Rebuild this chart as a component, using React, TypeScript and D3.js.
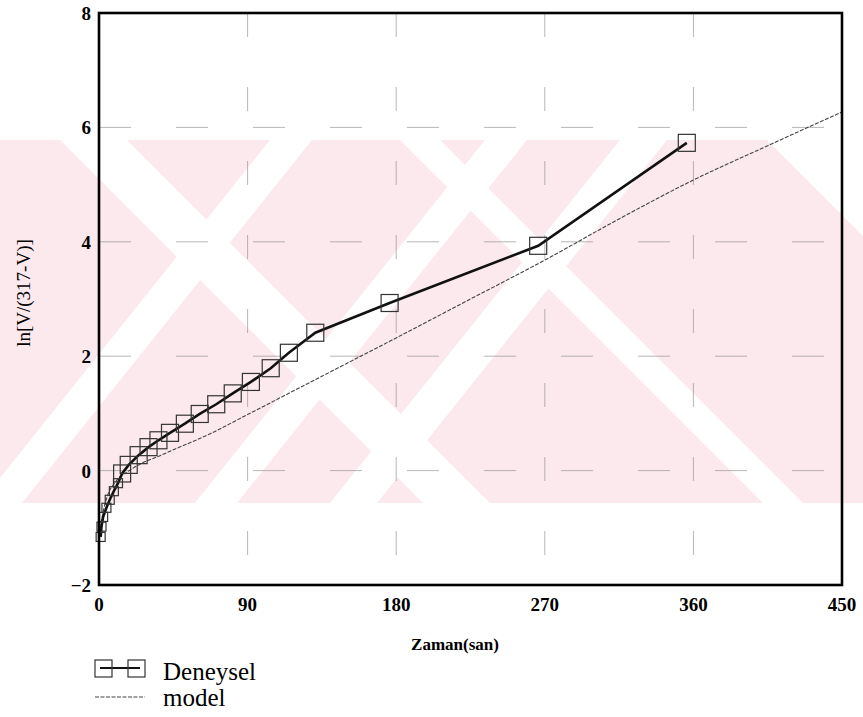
import React from "react";
import * as d3 from "d3";

const expT = [1, 1.5, 2.5, 4.5, 6.5, 9, 11.5, 14, 18, 24, 30, 36, 43, 52, 61, 71, 81, 92, 104, 115, 131, 176, 266, 356];
const expY = [-1.16, -0.98, -0.81, -0.65, -0.51, -0.36, -0.22, -0.05, 0.1, 0.27, 0.41, 0.53, 0.66, 0.82, 0.99, 1.16, 1.35, 1.55, 1.79, 2.06, 2.41, 2.93, 3.93, 5.73];

const modelT = [0, 2, 5, 10, 20, 40, 67, 90, 135, 180, 225, 270, 315, 360, 405, 450];
const modelY = [-1.2, -0.8, -0.45, -0.2, 0.03, 0.3, 0.64, 0.98, 1.65, 2.32, 3.0, 3.68, 4.4, 5.08, 5.68, 6.27];

const xTicks = [0, 90, 180, 270, 360, 450];
const yTicks = [-2, 0, 2, 4, 6, 8];
const yTickLabels = ["\u22122", "0", "2", "4", "6", "8"];
const gridX = [90, 180, 270, 360];
const gridY = [0, 2, 4, 6];

const W = 863, H = 717;
const L = 99, R = 842, T = 13, B = 585;
const FONT = "'Liberation Serif', 'Times New Roman', serif";

// background watermark (scan artefact): band and white cut-outs [topX0, topX1, bottomX0, bottomX1]
const WM_TOP = 140, WM_BOT = 503;
const wmCuts: number[][] = [
  [60, 127, 423, 490],
  [270, 312, -20, 22],
  [485, 527, 195, 237],
  [620, 667, 330, 377],
  [400, 440, 763, 803],
  [767, 900, 1130, 1263],
];

export default function App() {
  const x = d3.scaleLinear().domain([0, 450]).range([L, R]);
  const y = d3.scaleLinear().domain([-2, 8]).range([B, T]);
  const expPts = expT.map((t, i) => [t, expY[i]] as [number, number]);
  const modPts = modelT.map((t, i) => [t, modelY[i]] as [number, number]);
  const line = d3.line<[number, number]>().x(d => x(d[0])).y(d => y(d[1]));
  const modelLine = d3.line<[number, number]>().x(d => x(d[0])).y(d => y(d[1])).curve(d3.curveMonotoneX);

  return (
    <svg width={W} height={H} style={{ position: "absolute", left: 0, top: 0, background: "#fff" }} fontFamily={FONT}>
      <defs>
        <clipPath id="wmclip">
          <rect x={0} y={WM_TOP} width={W} height={WM_BOT - WM_TOP} />
        </clipPath>
      </defs>
      <g clipPath="url(#wmclip)">
        <rect x={0} y={WM_TOP} width={W} height={WM_BOT - WM_TOP} fill="#fce9ed" />
        {wmCuts.map((c, i) => (
          <polygon key={"wm" + i} points={`${c[0]},${WM_TOP} ${c[1]},${WM_TOP} ${c[3]},${WM_BOT} ${c[2]},${WM_BOT}`} fill="#fff" />
        ))}
      </g>
      {/* grid */}
      {gridY.map(v => (
        <line key={"gy" + v} x1={L} x2={R} y1={y(v)} y2={y(v)} stroke="#888" strokeWidth={1} strokeDasharray="32 45" opacity={0.6} />
      ))}
      {gridX.map(v => (
        <line key={"gx" + v} x1={x(v)} x2={x(v)} y1={T} y2={B} stroke="#888" strokeWidth={1} strokeDasharray="24 50" opacity={0.6} />
      ))}
      {/* model */}
      <path d={modelLine(modPts) || ""} fill="none" stroke="#444" strokeWidth={1.1} strokeDasharray="4 1.5" />
      {/* experimental */}
      <path d={line(expPts) || ""} fill="none" stroke="#111" strokeWidth={2.6} />
      {expPts.map((p, i) => {
        const s = i < 7 ? 9 : 17;
        return (
          <rect key={"sq" + i} x={x(p[0]) - s / 2} y={y(p[1]) - s / 2} width={s} height={s} fill="none" stroke="#333" strokeWidth={1.2} />
        );
      })}
      {/* frame */}
      <rect x={L} y={T} width={R - L} height={B - T} fill="none" stroke="#000" strokeWidth={2.6} />
      {/* tick labels */}
      {xTicks.map(v => (
        <text key={"xt" + v} x={x(v)} y={611} textAnchor="middle" fontSize={19} fontWeight="bold">{v}</text>
      ))}
      {yTicks.map((v, i) => (
        <text key={"yt" + v} x={91} y={y(v) + 7} textAnchor="end" fontSize={19} fontWeight="bold">{yTickLabels[i]}</text>
      ))}
      <text x={455} y={650} textAnchor="middle" fontSize={17} fontWeight="bold">Zaman(san)</text>
      <text transform={`translate(30,293) rotate(-90)`} textAnchor="middle" fontSize={19}>ln[V/(317-V)]</text>
      {/* legend */}
      <line x1={100} x2={140} y1={668} y2={668} stroke="#111" strokeWidth={2.2} />
      <rect x={95} y={660} width={17} height={17} fill="none" stroke="#333" strokeWidth={1.2} />
      <rect x={128} y={660} width={17} height={17} fill="none" stroke="#333" strokeWidth={1.2} />
      <text x={163} y={680} fontSize={25}>Deneysel</text>
      <line x1={95} x2={145} y1={697} y2={697} stroke="#444" strokeWidth={1.1} strokeDasharray="4 1.5" />
      <text x={163} y={706} fontSize={25}>model</text>
    </svg>
  );
}
